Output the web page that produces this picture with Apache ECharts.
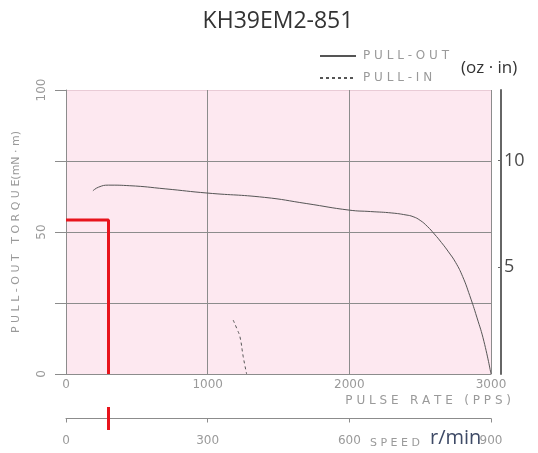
<!DOCTYPE html>
<html>
<head>
<meta charset="utf-8">
<script src="https://cdn.jsdelivr.net/npm/echarts@6/dist/echarts.min.js"></script>
<style>
  html, body { margin: 0; padding: 0; background: #fff; }
  #chart { width: 538px; height: 453px; }
</style>
</head>
<body>
<div id="chart"></div>
<script>
// pulse rate (pps) / torque (mN·m)
var pullOut = [
  [190, 64.5], [230, 65.8], [300, 66.5], [450, 66.3], [700, 65.2], [1000, 63.7],
  [1400, 62.2], [1700, 60.0], [2000, 57.7], [2150, 57.2], [2300, 56.7], [2400, 56.0],
  [2450, 55.4], [2500, 54.1], [2550, 52.0], [2600, 49.3], [2650, 46.3], [2700, 43.0],
  [2750, 39.3], [2800, 34.3], [2850, 27.6], [2900, 20.0], [2950, 11.5], [3000, 0]
]
var pullIn = [[1180, 19], [1210, 15.5], [1228, 13.1], [1251, 6.1], [1275, 0]]
var operating = [[0, 54.2], [300, 54.2], [300, 0]]
var speedMark = [[90, -1], [90, 1]]
var pulseTicks = [0, 3000, 1000]
var speedTicks = [0, 900, 300]
var torqueTicks = [0, 100, 25]
var ozTicks = [0, 13.3, 5]

var gray = '#8c8c8c'
var labelGray = '#9a9a9a'
var font = 'DejaVu Sans'

function spaced(s) { return s.split('').join(' ') }
function plain(v) { return String(v) }

var chart = echarts.init(document.getElementById('chart'))
chart.setOption({
  animation: false,
  title: {
    text: 'KH39EM2-851',
    left: 273,
    top: 5,
    textAlign: 'center',
    textStyle: { fontSize: 23, fontWeight: 'normal', color: '#333', fontFamily: 'Open Sans' }
  },
  legend: {
    data: ['PULL-OUT', 'PULL-IN'],
    orient: 'vertical',
    left: 314,
    top: 45,
    itemWidth: 36,
    itemHeight: 10,
    itemGap: 10,
    itemStyle: { opacity: 0 },
    formatter: function (name) { return spaced(name) },
    textStyle: { color: labelGray, fontSize: 12, fontFamily: font, padding: [0, 0, 0, 2] }
  },
  grid: [
    { left: 66, right: 47, top: 90, bottom: 79, show: true, backgroundColor: '#fde8f0', borderWidth: 0 },
    { left: 66, right: 47, top: 407, height: 23 }
  ],
  xAxis: [{
    type: 'value', gridIndex: 0,
    min: pulseTicks[0], max: pulseTicks[1], interval: pulseTicks[2],
    axisLine: { lineStyle: { color: gray } },
    axisTick: { show: false },
    splitLine: { lineStyle: { color: gray } },
    axisLabel: { color: labelGray, fontSize: 12, fontFamily: font, margin: 5, formatter: plain }
  }, {
    type: 'value', gridIndex: 1,
    min: speedTicks[0], max: speedTicks[1], interval: speedTicks[2],
    axisLine: { onZero: true, lineStyle: { color: gray } },
    axisTick: { show: true, length: 4, lineStyle: { color: gray } },
    splitLine: { show: false },
    axisLabel: { color: labelGray, fontSize: 12, fontFamily: font, margin: 5, formatter: plain }
  }],
  yAxis: [{
    type: 'value', gridIndex: 0,
    min: torqueTicks[0], max: torqueTicks[1], interval: torqueTicks[2],
    name: 'P U L L - O U T   T O R Q U E(mN · m)',
    nameLocation: 'middle', nameGap: 44, nameRotate: 90,
    nameTextStyle: { color: labelGray, fontSize: 11, fontFamily: font },
    axisLine: { show: true, lineStyle: { color: gray } },
    axisTick: { show: true, length: 11, lineStyle: { color: gray } },
    splitLine: { lineStyle: { color: [gray, gray, gray, gray, '#e9cbd6'] } },
    axisLabel: {
      color: labelGray, fontSize: 12, fontFamily: font, rotate: 90, margin: 18,
      formatter: function (v) { return v % 50 === 0 ? String(v) : '' }
    }
  }, {
    type: 'value', gridIndex: 0, position: 'right', offset: 10,
    min: ozTicks[0], max: ozTicks[1], interval: ozTicks[2],
    axisLine: { show: true, lineStyle: { color: '#666', width: 2 } },
    axisTick: { show: true, inside: true, length: 3, lineStyle: { color: '#666' } },
    splitLine: { show: false },
    axisLabel: {
      color: '#4a4a4a', fontSize: 18, fontFamily: 'Open Sans', margin: 3,
      showMinLabel: false, showMaxLabel: false
    }
  }, {
    type: 'value', gridIndex: 1, min: -1, max: 1, show: false
  }],
  graphic: [
    { type: 'text', right: 27, top: 395, style: { text: 'P U L S E   R A T E   ( P P S )', fill: labelGray, font: '12px "DejaVu Sans"' } },
    { type: 'text', left: 370, top: 438, style: { text: 'S P E E D', fill: labelGray, font: '11px "DejaVu Sans"' } },
    { type: 'text', left: 430, top: 428, style: { text: 'r/min', fill: '#3e4a66', font: '20px "Open Sans"' } },
    { type: 'text', left: 461, top: 60, style: { text: '(oz · in)', fill: '#333', font: '17px "Open Sans"' } }
  ],
  series: [{
    name: 'PULL-OUT', type: 'line', xAxisIndex: 0, yAxisIndex: 0,
    data: pullOut, smooth: true, symbol: 'none',
    lineStyle: { color: '#555', width: 1 }, itemStyle: { color: '#555' }
  }, {
    name: 'PULL-IN', type: 'line', xAxisIndex: 0, yAxisIndex: 0,
    data: pullIn, smooth: true, symbol: 'none',
    lineStyle: { color: '#555', width: 1, type: [3, 3] }, itemStyle: { color: '#555' }
  }, {
    name: 'operating', type: 'line', xAxisIndex: 0, yAxisIndex: 0,
    data: operating, symbol: 'none',
    lineStyle: { color: '#e8141c', width: 3 }
  }, {
    name: 'speedMark', type: 'line', xAxisIndex: 1, yAxisIndex: 2,
    data: speedMark, symbol: 'none',
    lineStyle: { color: '#e8141c', width: 3 }
  }]
})
</script>
</body>
</html>
